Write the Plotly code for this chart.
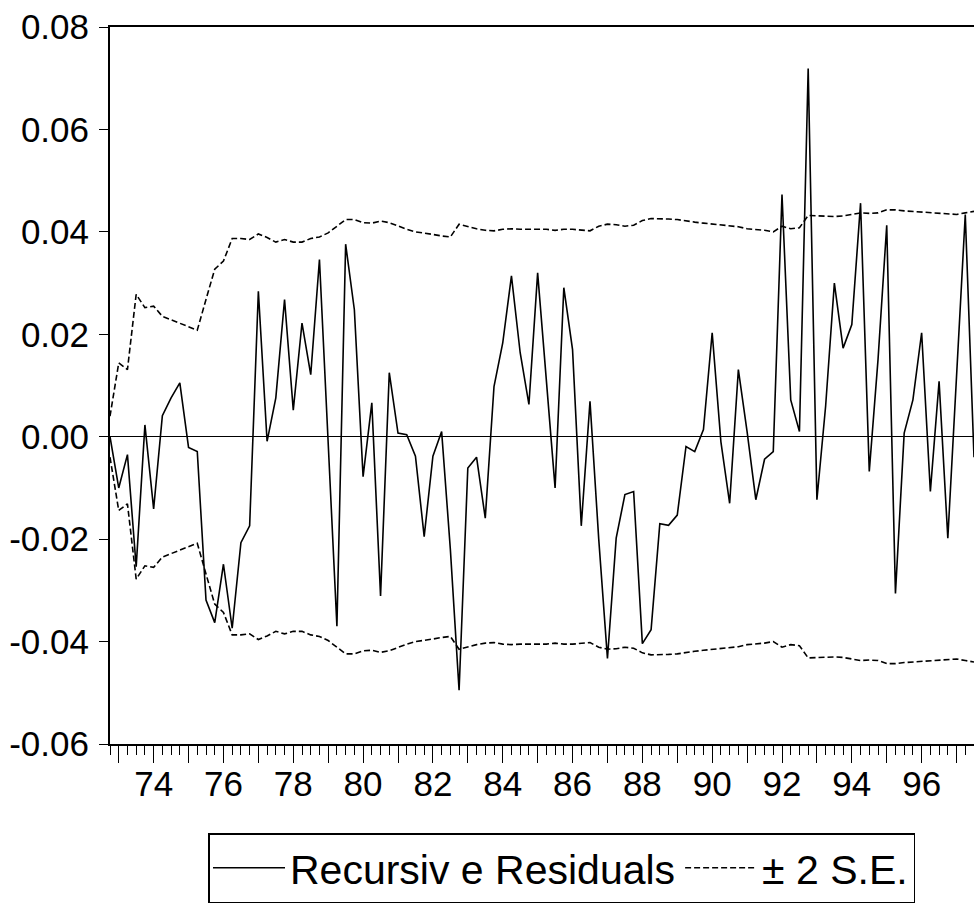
import pandas as pd
import plotly.graph_objects as go

# Quarterly observations 1972Q4 .. 1997Q3
quarters = pd.period_range("1972Q4", "1997Q3", freq="Q")

recursive_residuals = [
    0.0000,
    -0.0100, -0.0035, -0.0254, 0.0023,   # 1973
    -0.0141, 0.0041, 0.0076, 0.0105,     # 1974
    -0.0021, -0.0029, -0.0319, -0.0363,  # 1975
    -0.0249, -0.0374, -0.0207, -0.0174,  # 1976
    0.0284, -0.0009, 0.0076, 0.0268,     # 1977
    0.0052, 0.0222, 0.0121, 0.0346,      # 1978
    -0.0020, -0.0370, 0.0376, 0.0248,    # 1979
    -0.0078, 0.0066, -0.0311, 0.0125,    # 1980
    0.0007, 0.0004, -0.0038, -0.0195,    # 1981
    -0.0038, 0.0010, -0.0220, -0.0495,   # 1982
    -0.0061, -0.0040, -0.0159, 0.0098,   # 1983
    0.0183, 0.0314, 0.0164, 0.0063,      # 1984
    0.0320, 0.0110, -0.0100, 0.0291,     # 1985
    0.0170, -0.0174, 0.0069, -0.0200,    # 1986
    -0.0433, -0.0198, -0.0113, -0.0107,  # 1987
    -0.0404, -0.0377, -0.0170, -0.0173,  # 1988
    -0.0153, -0.0019, -0.0029, 0.0014,   # 1989
    0.0203, -0.0010, -0.0130, 0.0131,    # 1990
    0.0010, -0.0123, -0.0044, -0.0029,   # 1991
    0.0473, 0.0072, 0.0010, 0.0719,      # 1992
    -0.0123, 0.0060, 0.0300, 0.0173,     # 1993
    0.0219, 0.0456, -0.0068, 0.0150,     # 1994
    0.0413, -0.0306, 0.0007, 0.0072,     # 1995
    0.0203, -0.0107, 0.0108, -0.0198,    # 1996
    0.0120, 0.0434, -0.0040,             # 1997
]

two_se = [
    0.0040,
    0.0144, 0.0131, 0.0278, 0.0252,  # 1973
    0.0255, 0.0235, 0.0228, 0.0222,  # 1974
    0.0215, 0.0208, 0.0268, 0.0327,  # 1975
    0.0343, 0.0387, 0.0387, 0.0385,  # 1976
    0.0396, 0.0389, 0.0380, 0.0385,  # 1977
    0.0380, 0.0380, 0.0387, 0.0390,  # 1978
    0.0398, 0.0411, 0.0424, 0.0424,  # 1979
    0.0418, 0.0417, 0.0421, 0.0418,  # 1980
    0.0411, 0.0405, 0.0400, 0.0398,  # 1981
    0.0395, 0.0392, 0.0390, 0.0415,  # 1982
    0.0410, 0.0406, 0.0403, 0.0402,  # 1983
    0.0405, 0.0406, 0.0405, 0.0405,  # 1984
    0.0406, 0.0405, 0.0403, 0.0405,  # 1985
    0.0405, 0.0403, 0.0402, 0.0411,  # 1986
    0.0415, 0.0414, 0.0411, 0.0413,  # 1987
    0.0422, 0.0426, 0.0426, 0.0425,  # 1988
    0.0424, 0.0421, 0.0419, 0.0417,  # 1989
    0.0415, 0.0413, 0.0411, 0.0410,  # 1990
    0.0406, 0.0405, 0.0403, 0.0400,  # 1991
    0.0411, 0.0406, 0.0408, 0.0432,  # 1992
    0.0431, 0.0430, 0.0430, 0.0431,  # 1993
    0.0434, 0.0437, 0.0436, 0.0437,  # 1994
    0.0443, 0.0443, 0.0441, 0.0440,  # 1995
    0.0439, 0.0438, 0.0437, 0.0436,  # 1996
    0.0434, 0.0437, 0.0440,          # 1997
]

year_ticks = list(range(1973, 1998))
year_labels = [f"{y % 100:02d}" if y % 2 == 0 else "" for y in year_ticks]
y_ticks = [-0.06, -0.04, -0.02, 0.00, 0.02, 0.04, 0.06, 0.08]
y_labels = ["-0.06", "-0.04", "-0.02", "0.00", "0.02", "0.04", "0.06", "0.08"]

x = [p.year + (p.quarter - 1) / 4 for p in quarters]
upper = list(two_se)
lower = [-v for v in two_se]

FONT = "Liberation Sans, Arial, sans-serif"

fig = go.Figure()
fig.add_trace(go.Scatter(
    x=x, y=recursive_residuals, mode="lines",
    name="Recursiv e Residuals",
    line=dict(color="black", width=1.6),
))
fig.add_trace(go.Scatter(
    x=x, y=upper, mode="lines", name="± 2 S.E.", legendgroup="se",
    line=dict(color="black", width=1.6, dash="6px,3px"),
))
fig.add_trace(go.Scatter(
    x=x, y=lower, mode="lines", name="± 2 S.E.", legendgroup="se",
    showlegend=False,
    line=dict(color="black", width=1.6, dash="6px,3px"),
))

fig.update_layout(
    width=974, height=904,
    margin=dict(l=110, r=0, t=27, b=160),
    paper_bgcolor="white", plot_bgcolor="white",
    font=dict(family=FONT, size=35, color="black"),
    showlegend=True,
    legend=dict(
        orientation="h",
        x=(208 - 110) / 864, xanchor="left",
        y=-0.222, yanchor="bottom",
        bordercolor="black", borderwidth=1.5,
        bgcolor="white",
        font=dict(family=FONT, size=41, color="black"),
        itemwidth=72,
    ),
    xaxis=dict(
        range=[1972.75, 1997.5],
        showgrid=False, zeroline=False,
        showline=True, linecolor="black", linewidth=2, mirror=True,
        tickmode="array", tickvals=year_ticks, ticktext=year_labels,
        ticks="outside", ticklen=17, tickwidth=1.3, tickcolor="black",
        ticklabelstandoff=-9,
        minor=dict(dtick=0.25, tick0=1973, ticks="outside", ticklen=9,
                   tickwidth=1.1, tickcolor="black", showgrid=False),
        tickfont=dict(family=FONT, size=35, color="black"),
    ),
    yaxis=dict(
        range=[-0.06, 0.08],
        showgrid=False,
        zeroline=True, zerolinecolor="black", zerolinewidth=1.3,
        showline=True, linecolor="black", linewidth=2, mirror=False,
        tickmode="array", tickvals=y_ticks, ticktext=y_labels,
        ticks="outside", ticklen=9, tickwidth=1.3, tickcolor="black",
        ticklabelstandoff=3,
        tickfont=dict(family=FONT, size=35, color="black"),
    ),
)

fig.write_html("out.html")
